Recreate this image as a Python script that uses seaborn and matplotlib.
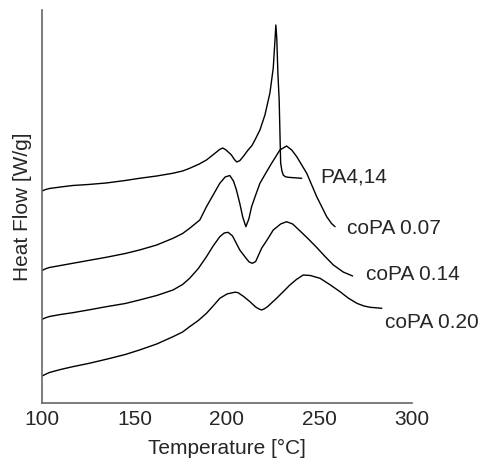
import numpy as np
import pandas as pd
import matplotlib
matplotlib.use("Agg")
import matplotlib.pyplot as plt
import seaborn as sns

# ---- data (y in arbitrary heat-flow units, offset curves) ----
pa414_T = [100, 102, 104, 110, 116.6, 125, 134.7, 145, 152.7, 162, 170.6, 176, 179.8, 185, 188.9, 193, 196,
           197.7, 199.5, 202.4, 204, 205.3, 207, 209, 211.4, 213.5, 215.1, 217.8, 220.5, 223.2, 225, 226,
           226.4, 226.9, 227.5, 228.2, 229, 229.7, 230.4, 231.5, 233.1, 240.4]
pa414_H = [212, 213.5, 214.5, 216, 217.5, 218.5, 220, 222.5, 224.7, 227, 229.7, 232, 234.7, 239, 243, 249, 253.5,
           255, 253, 248, 243.5, 241, 242.5, 247, 253, 257.5, 263, 273, 288, 310, 335, 365,
           378, 365, 330, 303, 240, 232, 228, 226.3, 225.7, 224.7]

c07_T = [100, 102, 104, 110, 116.6, 125, 134.7, 145, 152.7, 162, 170.8, 176, 179.8, 185.3, 188.9, 192.5, 196.1,
         199, 201.5, 203.5, 205.1, 206.9, 208.5, 210.2, 211.8, 213.3, 215.5, 217.8, 221, 224.1, 228.6, 232.2,
         235, 237.7, 243.1, 248.5, 253.9, 256.5, 258.4]
c07_H = [132.5, 134.3, 135.5, 137.5, 139.7, 142.5, 145.7, 149.5, 153, 158, 164.7, 169.5, 174.7, 183, 196.3, 208, 219.7,
         226, 227.5, 222, 213, 199.7, 186, 176.3, 184, 196.3, 208, 219.7, 230, 239.7, 253, 257,
         253, 246.3, 229.7, 206.3, 186.3, 179.5, 176.3]

c14_T = [100, 102, 104, 110, 116.6, 125, 134.7, 145, 152.7, 162, 170.8, 176, 179.8, 184.5, 188.9, 192.5, 196.1,
         198.5, 200.6, 203, 206.9, 210.2, 212, 213.7, 215.5, 218.7, 222, 225, 229, 232.2, 235.5, 239.5, 244,
         248.5, 253, 257.5, 262.8, 267.9]
c14_H = [83.7, 85.3, 86.5, 88.5, 90.3, 93, 96.3, 99.5, 103, 107.5, 113, 118.5, 124.7, 134.5, 146.3, 157, 166.3,
         170, 170.7, 167, 153, 145, 141, 139.7, 141.5, 154.7, 164, 173, 179, 181.3, 179, 172, 164,
         155.5, 146.5, 138, 131, 127]

c20_T = [100, 102, 104, 110, 116.6, 125, 134.7, 145, 152.7, 162, 170.8, 176, 179.8, 184.5, 188.9, 192.5, 196.1,
         200, 203, 204.5, 206, 209, 212.4, 215.5, 217, 218.7, 220.3, 222, 226.8, 230.5, 234, 237.5, 241.2, 245,
         250.3, 255.5, 261.1, 265.5, 270.2, 274, 277.4, 283.7]
c20_H = [27, 28.8, 30.5, 33.5, 36.3, 39.5, 43.7, 48.5, 53, 59, 66.3, 71, 76.3, 82.5, 89.7, 97, 104.7,
         109, 110.3, 110.8, 110.3, 106.5, 101.3, 96, 94.3, 93, 94.3, 96.5, 104.7, 111.5, 118, 123.5, 128, 127.5,
         124.7, 118.5, 111.3, 105, 99.7, 97, 95.7, 94.7]

series_names = ["PA4,14", "coPA 0.07", "coPA 0.14", "coPA 0.20"]
label_T = [250.5, 265.0, 274.9, 285.3]
label_H = [226.3, 174.7, 128, 80.3]
x_ticks = [100, 150, 200, 250, 300]

frames = []
for name, T, H in zip(series_names, [pa414_T, c07_T, c14_T, c20_T], [pa414_H, c07_H, c14_H, c20_H]):
    frames.append(pd.DataFrame({"T": T, "H": H, "sample": name}))
df = pd.concat(frames, ignore_index=True)

# ---- figure ----
sns.set_style("white")
plt.rcParams['font.family'] = ['Liberation Sans', 'DejaVu Sans']

fig = plt.figure(figsize=(4.83, 4.59), dpi=100)
ax = fig.add_axes([42 / 483, 56 / 459, 370 / 483, 393 / 459])

sns.lineplot(data=df, x="T", y="H", units="sample", estimator=None, sort=False,
             color="black", linewidth=1.0, ax=ax, legend=False)

for name, tx, ty in zip(series_names, label_T, label_H):
    ax.text(tx, ty, name, fontsize=15, va="center", ha="left", clip_on=False)

ax.set_xlim(100, 300)
ax.set_ylim(0, 393)
ax.set_xticks(x_ticks)
ax.set_xticklabels([str(t) for t in x_ticks], fontsize=15)
ax.set_yticks([])
ax.tick_params(axis="x", direction="in", length=3.5, width=1, color="#666666", pad=5)

for s in ["top", "right"]:
    ax.spines[s].set_visible(False)
for s in ["left", "bottom"]:
    ax.spines[s].set_color("#666666")
    ax.spines[s].set_linewidth(1.2)

ax.set_xlabel("Temperature [°C]", fontsize=15, labelpad=7)
ax.set_ylabel("Heat Flow [W/g]", fontsize=15)
ax.yaxis.set_label_coords(-0.026, 0.5)

fig.savefig("out.png", dpi=100)
